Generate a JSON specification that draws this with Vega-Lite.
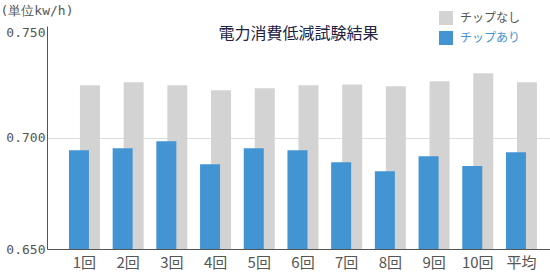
{
  "$schema": "https://vega.github.io/schema/vega-lite/v6.json",
  "width": 503,
  "height": 223,
  "autosize": "none",
  "padding": {"left": 47, "top": 26, "right": 0, "bottom": 23},
  "background": "white",
  "config": {"view": {"stroke": null}, "font": "Noto Sans CJK JP"},
  "title": {
    "text": "電力消費低減試験結果",
    "fontSize": 16,
    "fontWeight": "normal",
    "color": "#222244",
    "anchor": "middle",
    "orient": "top",
    "baseline": "middle",
    "offset": -46
  },
  "data": {
    "values": [
      {"round": "1回", "series": "チップなし", "value": 0.7234},
      {"round": "2回", "series": "チップなし", "value": 0.7248},
      {"round": "3回", "series": "チップなし", "value": 0.7234},
      {"round": "4回", "series": "チップなし", "value": 0.7212},
      {"round": "5回", "series": "チップなし", "value": 0.7221},
      {"round": "6回", "series": "チップなし", "value": 0.7234},
      {"round": "7回", "series": "チップなし", "value": 0.7238},
      {"round": "8回", "series": "チップなし", "value": 0.7230},
      {"round": "9回", "series": "チップなし", "value": 0.7252},
      {"round": "10回", "series": "チップなし", "value": 0.7288},
      {"round": "平均", "series": "チップなし", "value": 0.7248},
      {"round": "1回", "series": "チップあり", "value": 0.6943},
      {"round": "2回", "series": "チップあり", "value": 0.6952},
      {"round": "3回", "series": "チップあり", "value": 0.6983},
      {"round": "4回", "series": "チップあり", "value": 0.6880},
      {"round": "5回", "series": "チップあり", "value": 0.6952},
      {"round": "6回", "series": "チップあり", "value": 0.6943},
      {"round": "7回", "series": "チップあり", "value": 0.6889},
      {"round": "8回", "series": "チップあり", "value": 0.6849},
      {"round": "9回", "series": "チップあり", "value": 0.6916},
      {"round": "10回", "series": "チップあり", "value": 0.6872},
      {"round": "平均", "series": "チップあり", "value": 0.6934}
    ]
  },
  "encoding": {
    "x": {
      "field": "round",
      "type": "nominal",
      "sort": null,
      "scale": {"paddingInner": 0, "paddingOuter": 0.255, "align": 0.7},
      "axis": {
        "title": null,
        "labelAngle": 0,
        "ticks": false,
        "domainColor": "#555555",
        "labelColor": "#555555",
        "labelFontSize": 15,
        "labelPadding": 6,
        "labelFont": "Noto Sans CJK JP"
      }
    },
    "y": {
      "field": "value",
      "type": "quantitative",
      "scale": {"domain": [0.65, 0.75], "zero": false, "nice": false},
      "axis": {
        "title": "(単位kw/h)",
        "titleAngle": 0,
        "titleAlign": "left",
        "titleX": -47,
        "titleY": -16,
        "titleBaseline": "middle",
        "titleFont": "DejaVu Sans Mono",
        "titleFontSize": 13,
        "titleFontWeight": "normal",
        "titleColor": "#555555",
        "values": [0.65, 0.7, 0.75],
        "format": ".3f",
        "labelFont": "DejaVu Sans Mono",
        "labelFontSize": 13,
        "labelColor": "#555555",
        "ticks": false,
        "labelPadding": 2,
        "domainColor": "#555555",
        "gridColor": "#dddddd",
        "gridOpacity": {"condition": {"test": "datum.value > 0.69 && datum.value < 0.71", "value": 1}, "value": 0},
        "labelBaseline": {"condition": {"test": "datum.value > 0.74", "value": "top"}, "value": "middle"}
      }
    },
    "y2": {"datum": 0.65},
    "color": {
      "field": "series",
      "type": "nominal",
      "scale": {"domain": ["チップなし", "チップあり"], "range": ["#d3d3d3", "#4394d3"]},
      "legend": {
        "orient": "none",
        "legendX": 392,
        "legendY": -15,
        "title": null,
        "symbolType": "square",
        "symbolSize": 196,
        "symbolStrokeWidth": 0,
        "labelFontSize": 12,
        "labelColor": "#555555",
        "rowPadding": 6,
        "padding": 0,
        "labelOffset": 7,
        "encode": {
          "labels": {"update": {"fill": {"signal": "datum.value === 'チップあり' ? '#4394d3' : '#555555'"}}}
        }
      }
    }
  },
  "layer": [
    {
      "transform": [{"filter": "datum.series === 'チップなし'"}],
      "mark": {"type": "bar", "width": 20, "xOffset": 5.5}
    },
    {
      "transform": [{"filter": "datum.series === 'チップあり'"}],
      "mark": {"type": "bar", "width": 20, "xOffset": -5.5}
    }
  ]
}
